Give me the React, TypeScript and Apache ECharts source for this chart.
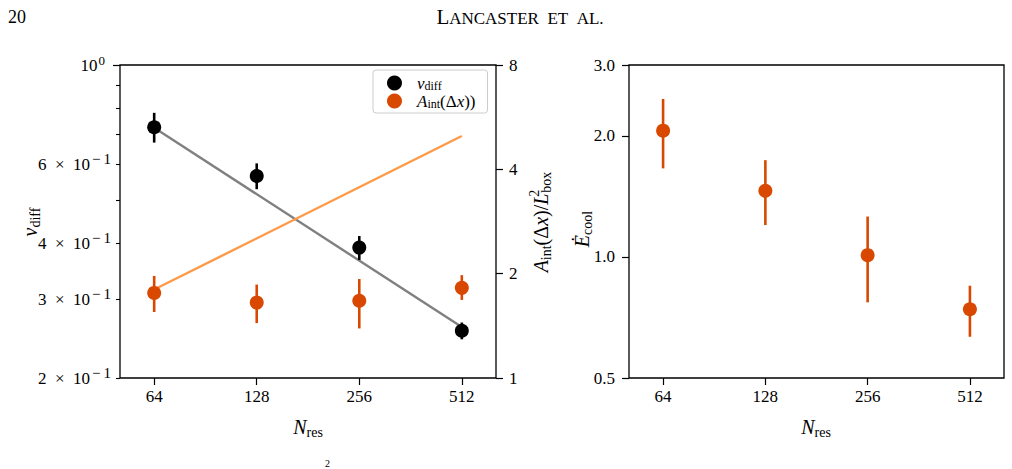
import React, { useEffect, useRef } from 'react';
import * as echarts from 'echarts';

// ---------- data ----------
const resolutions = [64, 128, 256, 512];
const xTickValues = [64, 128, 256, 512];

const vDiff = [0.726, 0.565, 0.391, 0.255];
const vDiffLow = [0.671, 0.528, 0.367, 0.244];
const vDiffHigh = [0.782, 0.603, 0.415, 0.266];

const fitResolutions = [64, 512];
const vDiffFit = [0.724, 0.26];
const aIntFit = [1.8, 4.99];

const aInt = [1.76, 1.65, 1.67, 1.82];
const aIntLow = [1.55, 1.44, 1.39, 1.68];
const aIntHigh = [1.97, 1.86, 1.93, 1.98];

const eCool = [2.06, 1.46, 1.01, 0.741];
const eCoolLow = [1.66, 1.2, 0.771, 0.633];
const eCoolHigh = [2.47, 1.74, 1.26, 0.848];

const vMinorTicks = [0.2, 0.3, 0.4, 0.5, 0.6, 0.7, 0.8, 0.9];
const vLabelTicks = [0.2, 0.3, 0.4, 0.6];
const vLabelTexts = [
  '{b|2\u2002×\u200210}{p|−\u20091}',
  '{b|3\u2002×\u200210}{p|−\u20091}',
  '{b|4\u2002×\u200210}{p|−\u20091}',
  '{b|6\u2002×\u200210}{p|−\u20091}',
];
const vMajorTicks = [1.0];
const aTicks = [1, 2, 4, 8];
const eTicks = [0.5, 1.0, 2.0, 3.0];

// ---------- style ----------
const FONT = '"Liberation Serif", "DejaVu Serif", serif';
const ORANGE = '#d94801';
const ORANGE_LINE = '#fd9a48';
const GREY_LINE = '#808080';
const TICK_FS = 17;

const l2 = (n: number) => Math.log2(n);
const l10 = (v: number) => Math.log10(v);
const X_MIN = l2(64) - 1 / 3;
const X_MAX = l2(512) + 1 / 3;

const near = (a: number, b: number) => Math.abs(a - b) < 1e-6;

function xAxis(gridIndex: number) {
  return {
    gridIndex,
    type: 'value',
    min: X_MIN,
    max: X_MAX,
    axisLine: { show: false, onZero: false },
    splitLine: { show: false },
    axisTick: {
      show: true,
      length: 7,
      customValues: xTickValues.map(l2),
      lineStyle: { color: '#000', width: 1.2 },
    },
    axisLabel: {
      customValues: xTickValues.map(l2),
      formatter: (v: number) => String(Math.round(Math.pow(2, v))),
      margin: 10,
      fontFamily: FONT,
      fontSize: TICK_FS,
      color: '#000',
    },
  };
}

function errorBars(xi: number, yi: number, lo: number[], hi: number[], color: string, tf: (v: number) => number) {
  return {
    type: 'custom',
    xAxisIndex: xi,
    yAxisIndex: yi,
    silent: true,
    z: 3,
    data: resolutions.map((n, i) => [l2(n), tf(lo[i]), tf(hi[i])]),
    encode: { x: 0, y: [1, 2] },
    renderItem: (_p: any, api: any) => {
      const a = api.coord([api.value(0), api.value(1)]);
      const b = api.coord([api.value(0), api.value(2)]);
      return {
        type: 'line',
        shape: { x1: a[0], y1: a[1], x2: b[0], y2: b[1] },
        style: { stroke: color, lineWidth: 2.6 },
      };
    },
  };
}

const subRich = {
  i: { fontFamily: FONT, fontStyle: 'italic', fontSize: 20, lineHeight: 20, color: '#000' },
  r: { fontFamily: FONT, fontSize: 20, lineHeight: 20, color: '#000' },
  s: { fontFamily: FONT, fontSize: 14, lineHeight: 14, padding: [11, 0, 0, 0], color: '#000' },
  sup: { fontFamily: FONT, fontSize: 14, lineHeight: 14, padding: [0, 0, 14, 0], width: 1, color: '#000' },
};

const WORD_GAP = '\u2002';

export default function App() {
  const ref = useRef<HTMLDivElement>(null);
  useEffect(() => {
    if (!ref.current) return;
    const chart = echarts.init(ref.current, null, { renderer: 'svg' });
    const option: any = {
      animation: false,
      backgroundColor: '#fff',
      grid: [
        { left: 120, top: 65, width: 376, height: 313, show: true, borderColor: '#000', borderWidth: 1.3, backgroundColor: 'transparent' },
        { left: 629, top: 65, width: 375, height: 313, show: true, borderColor: '#000', borderWidth: 1.3, backgroundColor: 'transparent' },
      ],
      xAxis: [xAxis(0), xAxis(1)],
      yAxis: [
        {
          gridIndex: 0,
          type: 'value',
          position: 'left',
          min: l10(0.2),
          max: 0,
          axisLine: { show: false, onZero: false },
          splitLine: { show: false },
          axisTick: { show: true, length: 4, customValues: vMinorTicks.map(l10), lineStyle: { color: '#000', width: 1.1 } },
          axisLabel: {
            customValues: vLabelTicks.map(l10),
            formatter: (v: number) => {
              const i = vLabelTicks.findIndex((t) => near(l10(t), v));
              return i >= 0 ? vLabelTexts[i] : '';
            },
            margin: 9,
            rich: {
              b: { fontFamily: FONT, fontSize: TICK_FS, lineHeight: 17, color: '#000' },
              p: { fontFamily: FONT, fontSize: 15, lineHeight: 15, padding: [0, 0, 10, 2], color: '#000' },
            },
          },
        },
        {
          gridIndex: 0,
          type: 'value',
          position: 'right',
          min: 0,
          max: 3,
          axisLine: { show: false, onZero: false },
          splitLine: { show: false },
          axisTick: { show: true, length: 7, customValues: aTicks.map(l2), lineStyle: { color: '#000', width: 1.2 } },
          axisLabel: {
            customValues: aTicks.map(l2),
            formatter: (v: number) => String(Math.round(Math.pow(2, v))),
            margin: 13,
            fontFamily: FONT,
            fontSize: TICK_FS,
            color: '#000',
          },
        },
        {
          gridIndex: 1,
          type: 'value',
          position: 'left',
          min: l10(0.5),
          max: l10(3),
          axisLine: { show: false, onZero: false },
          splitLine: { show: false },
          axisTick: { show: true, length: 7, customValues: eTicks.map(l10), lineStyle: { color: '#000', width: 1.2 } },
          axisLabel: {
            customValues: eTicks.map(l10),
            formatter: (v: number) => {
              const t = eTicks.find((e) => near(l10(e), v));
              return t !== undefined ? t.toFixed(1) : '';
            },
            margin: 14,
            fontFamily: FONT,
            fontSize: TICK_FS,
            color: '#000',
          },
        },
        {
          gridIndex: 0,
          type: 'value',
          position: 'left',
          min: l10(0.2),
          max: 0,
          axisLine: { show: false, onZero: false },
          splitLine: { show: false },
          axisTick: { show: true, length: 7, customValues: vMajorTicks.map(l10), lineStyle: { color: '#000', width: 1.2 } },
          axisLabel: {
            customValues: vMajorTicks.map(l10),
            formatter: () => '{b|10}{p|0}',
            margin: 15,
            rich: {
              b: { fontFamily: FONT, fontSize: TICK_FS, lineHeight: 17, color: '#000' },
              p: { fontFamily: FONT, fontSize: 13, lineHeight: 13, padding: [0, 0, 10, 1], color: '#000' },
            },
          },
        },
      ],
      legend: {
        left: 373,
        top: 70,
        orient: 'vertical',
        icon: 'circle',
        itemWidth: 15,
        itemHeight: 15,
        itemGap: 0,
        padding: [4, 12, 3, 14],
        backgroundColor: 'rgba(255,255,255,0.85)',
        borderColor: '#cccccc',
        borderWidth: 1,
        borderRadius: 3,
        data: ['vdiff', 'aint'],
        formatter: (name: string) =>
          name === 'vdiff' ? '{i|v}{s|diff}' : '{i|A}{s|int}{r|(Δ}{i|x}{r|))}',
        textStyle: {
          padding: [0, 0, 0, 10],
          rich: {
            i: { fontFamily: FONT, fontStyle: 'italic', fontSize: 17, lineHeight: 14, color: '#000' },
            r: { fontFamily: FONT, fontSize: 17, lineHeight: 14, color: '#000' },
            s: { fontFamily: FONT, fontSize: 12, lineHeight: 10, padding: [6, 0, 0, 0], color: '#000' },
          },
        },
      },
      series: [
        {
          type: 'line',
          xAxisIndex: 0,
          yAxisIndex: 0,
          data: fitResolutions.map((n, i) => [l2(n), l10(vDiffFit[i])]),
          symbol: 'none',
          lineStyle: { color: GREY_LINE, width: 2.4 },
          z: 2,
          silent: true,
        },
        {
          type: 'line',
          xAxisIndex: 0,
          yAxisIndex: 1,
          data: fitResolutions.map((n, i) => [l2(n), l2(aIntFit[i])]),
          symbol: 'none',
          lineStyle: { color: ORANGE_LINE, width: 2.4 },
          z: 2,
          silent: true,
        },
        errorBars(0, 0, vDiffLow, vDiffHigh, '#000', l10),
        errorBars(0, 1, aIntLow, aIntHigh, ORANGE, l2),
        errorBars(1, 2, eCoolLow, eCoolHigh, ORANGE, l10),
        {
          name: 'vdiff',
          type: 'scatter',
          xAxisIndex: 0,
          yAxisIndex: 0,
          symbolSize: 14,
          itemStyle: { color: '#000', opacity: 1 },
          data: resolutions.map((n, i) => [l2(n), l10(vDiff[i])]),
          z: 4,
        },
        {
          name: 'aint',
          type: 'scatter',
          xAxisIndex: 0,
          yAxisIndex: 1,
          symbolSize: 14,
          itemStyle: { color: ORANGE, opacity: 1 },
          data: resolutions.map((n, i) => [l2(n), l2(aInt[i])]),
          z: 4,
        },
        {
          name: 'ecool',
          type: 'scatter',
          xAxisIndex: 1,
          yAxisIndex: 2,
          symbolSize: 14,
          itemStyle: { color: ORANGE, opacity: 1 },
          data: resolutions.map((n, i) => [l2(n), l10(eCool[i])]),
          z: 4,
        },
      ],
      graphic: [
        { type: 'text', left: 8, top: 8, style: { text: '20', fontFamily: FONT, fontSize: 18, fill: '#000' } },
        {
          type: 'text',
          x: 520,
          y: 17,
          style: {
            text: `{a|L}{b|ANCASTER${WORD_GAP}ET${WORD_GAP}AL.}`,
            align: 'center',
            verticalAlign: 'middle',
            rich: {
              a: { fontFamily: FONT, fontSize: 21, lineHeight: 21, fill: '#000' },
              b: { fontFamily: FONT, fontSize: 17, lineHeight: 21, fill: '#000', padding: [2, 0, 0, 0] },
            },
          },
        },
        {
          type: 'text', x: 308, y: 427,
          style: { text: '{i|N}{s|res}', align: 'center', verticalAlign: 'middle', rich: subRich },
        },
        {
          type: 'text', x: 816, y: 427,
          style: { text: '{i|N}{s|res}', align: 'center', verticalAlign: 'middle', rich: subRich },
        },
        {
          type: 'text', x: 30, y: 222, rotation: Math.PI / 2,
          style: { text: '{i|v}{s|diff}', align: 'center', verticalAlign: 'middle', rich: subRich },
        },
        {
          type: 'text', x: 541, y: 222, rotation: Math.PI / 2,
          style: {
            text: '{i|A}{s|int}{r|(Δ}{i|x}{r|)/}{i|L}{sup|2}{s|box}',
            align: 'center', verticalAlign: 'middle', rich: subRich,
          },
        },
        {
          type: 'text', x: 582, y: 229, rotation: Math.PI / 2,
          style: { text: '{i|Ė}{s|cool}', align: 'center', verticalAlign: 'middle', rich: subRich },
        },
        { type: 'text', x: 325, y: 458, style: { text: '2', fontFamily: FONT, fontSize: 10, fill: '#000' } },
      ],
    };
    chart.setOption(option);
    return () => chart.dispose();
  }, []);
  return (
    <div
      ref={ref}
      style={{ position: 'fixed', left: 0, top: 0, width: 1012, height: 469, background: '#fff' }}
    />
  );
}
